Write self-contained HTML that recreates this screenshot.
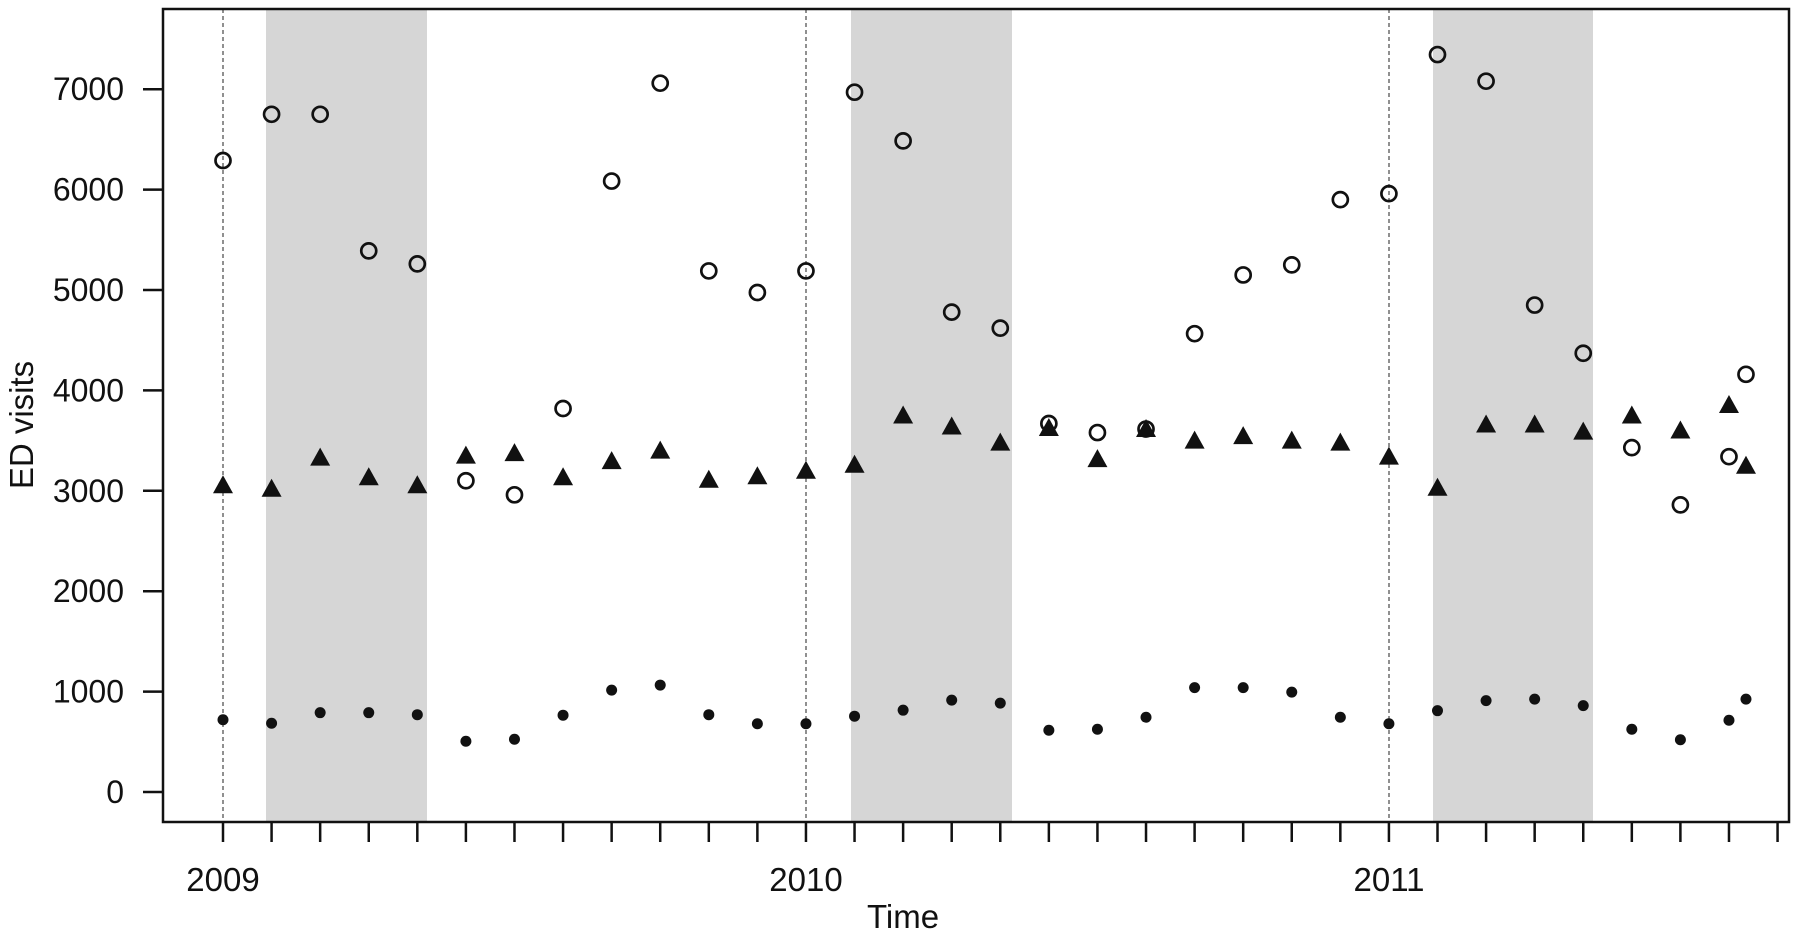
<!DOCTYPE html>
<html><head><meta charset="utf-8"><style>
html,body{margin:0;padding:0;background:#fff;}
svg{display:block;font-family:"Liberation Sans",Arial,sans-serif;}
</style></head><body>
<svg id="s" width="1800" height="943" viewBox="0 0 1800 943" xmlns="http://www.w3.org/2000/svg">
<rect x="266" y="9" width="161" height="813" fill="#d6d6d6"/>
<rect x="851" y="9" width="161" height="813" fill="#d6d6d6"/>
<rect x="1433" y="9" width="160" height="813" fill="#d6d6d6"/>
<g stroke="#555" stroke-width="1.3" stroke-dasharray="4,3">
<line x1="223" y1="9" x2="223" y2="822"/>
<line x1="806" y1="9" x2="806" y2="822"/>
<line x1="1389" y1="9" x2="1389" y2="822"/>
</g>
<rect x="163" y="9" width="1626" height="813" fill="none" stroke="#111" stroke-width="2.5"/>
<g id="ticks" stroke="#111" stroke-width="2.5"></g>
<g id="pts"></g>
<g font-size="32" fill="#111" text-anchor="end" id="ylab"></g>
<g font-size="33" fill="#111" text-anchor="middle">
<text x="223" y="891">2009</text>
<text x="806" y="891">2010</text>
<text x="1389" y="891">2011</text>
<text x="903" y="928">Time</text>
<text transform="translate(33,425) rotate(-90)">ED visits</text>
</g>
</svg>
<script>
var NS="http://www.w3.org/2000/svg";
function el(p,t,a){var e=document.createElementNS(NS,t);for(var k in a)e.setAttribute(k,a[k]);document.getElementById(p).appendChild(e);return e;}
function X(i){return 223+i*48.58;}
function Y(v){return 792-v*0.1004;}
for(var v=0;v<=7000;v+=1000){el("ticks","line",{x1:143,x2:163,y1:Y(v),y2:Y(v)});var t=el("ylab","text",{x:124,y:Y(v)+11});t.textContent=v;}
for(var i=0;i<=32;i++){el("ticks","line",{x1:X(i),x2:X(i),y1:822,y2:842});}
var idx=[];for(i=0;i<32;i++)idx.push(i);idx.push(31.35);
var C=[6290,6750,6750,5390,5260,3100,2960,3820,6085,7060,5190,4975,5190,6970,6485,4780,4620,3670,3580,3615,4565,5150,5250,5900,5960,7345,7080,4850,4370,3430,2860,3340,4160];
var T=[3055,3020,3330,3135,3055,3350,3375,3135,3295,3400,3110,3145,3200,3260,3750,3640,3480,3625,3315,3615,3500,3545,3500,3480,3340,3030,3660,3660,3590,3750,3600,3855,3250];
var D=[720,685,790,790,770,505,525,765,1015,1065,770,680,680,755,815,915,885,615,625,745,1040,1040,995,745,680,810,910,925,860,625,520,715,925];
for(i=0;i<idx.length;i++){
 var x=X(idx[i]);
 el("pts","circle",{cx:x,cy:Y(C[i]),r:7.5,fill:"none",stroke:"#111","stroke-width":2.7});
 var y=Y(T[i]);
 el("pts","polygon",{points:(x-10)+","+(y+8)+" "+(x+10)+","+(y+8)+" "+x+","+(y-10),fill:"#111"});
 el("pts","circle",{cx:x,cy:Y(D[i]),r:5.5,fill:"#111"});
}
</script>
</body></html>
